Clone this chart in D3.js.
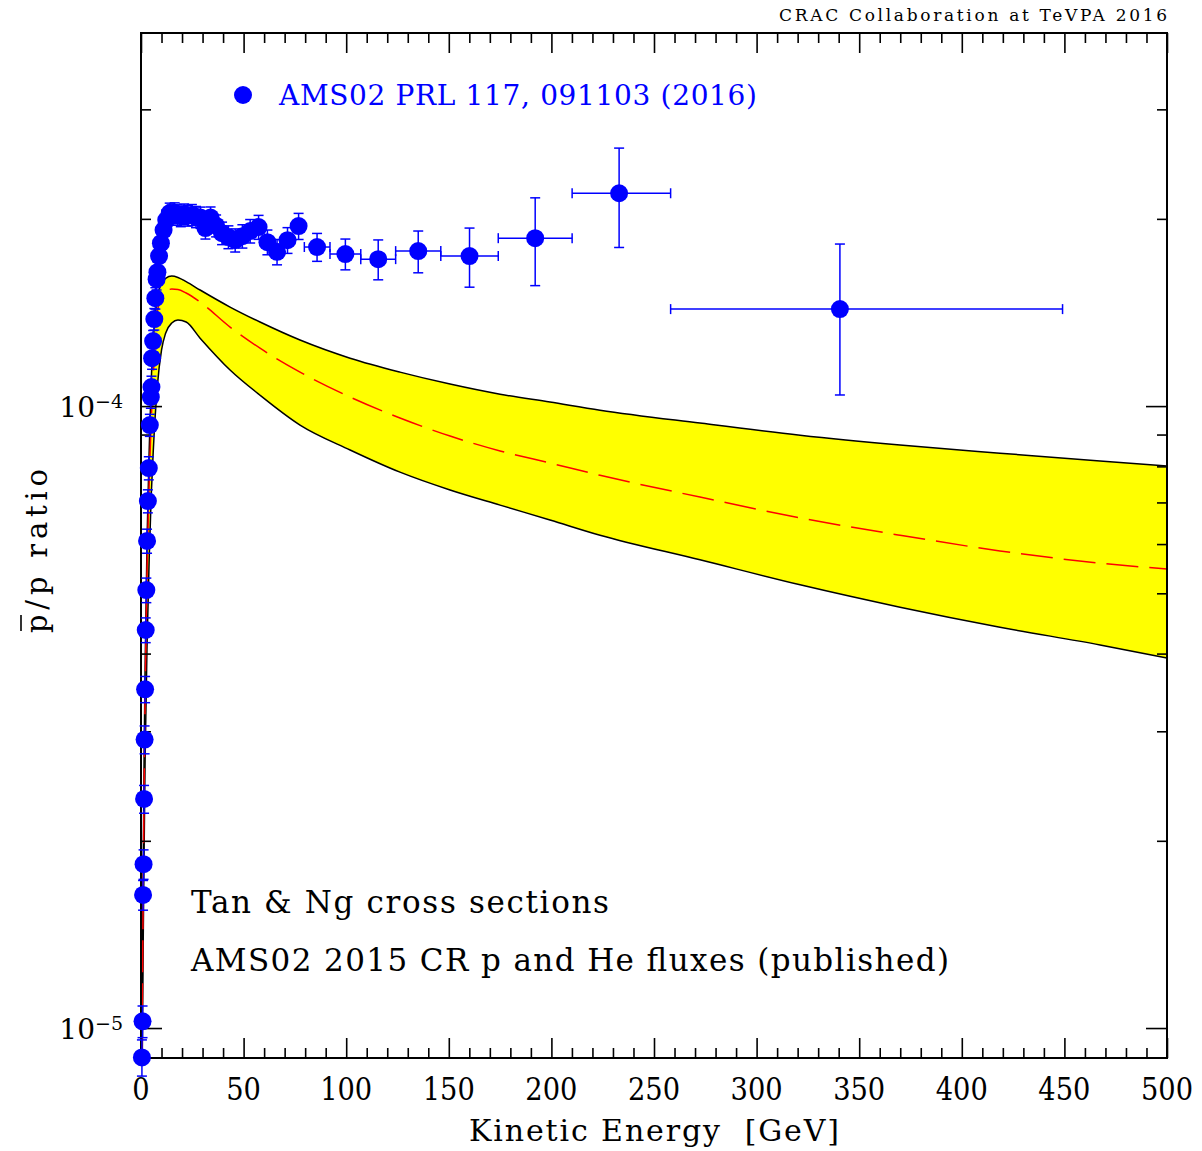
<!DOCTYPE html>
<html><head><meta charset="utf-8">
<script src="https://cdn.jsdelivr.net/npm/d3@7"></script>
<style>
html,body{margin:0;padding:0;background:#fff;}
svg{display:block;}
text{font-family:"DejaVu Serif","Liberation Serif",serif;}
</style></head><body>
<svg id="chart" width="1202" height="1151"></svg>
<script>
// ---------- DATA (ratio values in units of 1e-4) ----------
const UNIT = 1e-4;
const dataKE   = [0.45,0.75,1.0,1.25,1.5,1.75,2.0,2.3,2.6,2.95,3.35,3.8,4.3,4.8,5.1,5.4,5.9,6.5,7.0,7.6,8.0,8.8,9.7,11.0,12.3,14.0,15.0,16.4,17.8,19.4,21.0,22.8,24.8,26.8,29.0,31.4,33.9,36.6,39.5,42.6,45.9,49.4,53.2,57.3,61.6,66.3,71.4,76.8,85.8,99.6,115.6,135.1,160.1,192.1,233.0,340.6];
const dataKELo = [0.3,0.6,0.9,1.1,1.4,1.6,1.9,2.2,2.5,2.8,3.2,3.6,4.1,4.6,4.95,5.25,5.65,6.2,6.8,7.3,7.8,8.4,9.2,10.2,11.6,13.1,14.4,15.7,17.1,18.6,20.2,21.9,23.8,25.8,27.9,30.2,32.6,35.2,38.0,41.0,44.2,47.6,51.3,55.2,59.4,63.9,68.8,74.0,79.6,92.1,107.1,124.1,146.1,174.1,210.1,258.1];
const dataKEHi = [0.6,0.9,1.1,1.4,1.6,1.9,2.2,2.5,2.8,3.2,3.6,4.1,4.6,4.95,5.25,5.65,6.2,6.8,7.3,7.8,8.4,9.2,10.2,11.6,13.1,14.4,15.7,17.1,18.6,20.2,21.9,23.8,25.8,27.9,30.2,32.6,35.2,38.0,41.0,44.2,47.6,51.3,55.2,59.4,63.9,68.8,74.0,79.6,92.1,107.1,124.1,146.1,174.1,210.1,258.1,449.1];
const dataRatio = [0.0897,0.1025,0.1637,0.1834,0.2335,0.291,0.3505,0.4365,0.506,0.607,
  0.7035,0.795,0.932,1.034,1.073,1.194,1.272,1.380,1.491,1.600,
  1.642,1.743,1.828,1.919,1.991,2.043,
  2.03,2.045,2.03,2.02,2.035,2.025,2.03,2.015,2.01,
  1.933,2.01,1.95,1.897,1.870,1.848,1.876,1.912,1.94,1.835,
  1.770,1.848,1.947,
  1.802,1.756,1.723,1.775,1.743,1.862,2.199,1.432];
const dataErr = [0.006,0.006,0.009,0.010,0.012,0.015,0.017,0.02,0.023,0.027,
  0.03,0.034,0.038,0.042,0.044,0.048,0.051,0.055,0.059,0.063,
  0.065,0.068,0.07,0.073,0.075,0.077,
  0.076,0.077,0.077,0.077,0.078,0.078,0.079,0.079,0.079,
  0.077,0.08,0.079,0.079,0.079,0.079,0.081,0.083,0.086,0.084,
  0.083,0.088,0.094,
  0.093,0.10,0.127,0.137,0.19,0.30,0.40,0.39];

const theoryKE      = [0.3,0.5,1,1.5,2,3,4,5,6,8,10,12,15,18,22,28.8,43.4,58,77.5,101.9,126.2,150.6,175,199.3,223.7,272.4,321.2,369.9,418.6,467.4,500];
const theoryUpper   = [0.07,0.095,0.17,0.27,0.38,0.62,0.85,1.10,1.28,1.50,1.575,1.605,1.618,1.61,1.585,1.537,1.443,1.365,1.277,1.194,1.134,1.085,1.045,1.015,0.985,0.939,0.898,0.866,0.840,0.816,0.801];
const theoryCentral = [0.065,0.088,0.155,0.24,0.34,0.55,0.75,0.95,1.12,1.42,1.50,1.53,1.542,1.54,1.52,1.47,1.34,1.239,1.134,1.034,0.957,0.895,0.847,0.810,0.774,0.714,0.661,0.620,0.585,0.559,0.547];
const theoryLower   = [0.058,0.078,0.13,0.19,0.27,0.42,0.57,0.72,0.85,1.08,1.23,1.31,1.36,1.375,1.365,1.286,1.143,1.041,0.932,0.850,0.783,0.733,0.693,0.656,0.620,0.566,0.516,0.475,0.441,0.413,0.3934];

const xMajorTicks = [0,50,100,150,200,250,300,350,400,450,500];
const xMinorTicks = d3.range(0,501,10).filter(v => v % 50 !== 0);
const yMajorTicks = [1e-5,1e-4];
const yMajorExp   = ["−5","−4"];
const yMinorTicks = [2e-5,3e-5,4e-5,5e-5,6e-5,7e-5,8e-5,9e-5,2e-4,3e-4];

const legendLabel = "AMS02 PRL 117, 091103 (2016)";
const titleText = "CRAC Collaboration at TeVPA 2016";
const note1 = "Tan & Ng cross sections";
const note2 = "AMS02 2015 CR p and He fluxes (published)";
const xTitle = "Kinetic Energy  [GeV]";
const yTitle = "p/p ratio";

// ---------- LAYOUT ----------
const P = {left:141, right:1167, top:33, bottom:1058};
const svg = d3.select('#chart');
const x = d3.scaleLinear().domain([0,500]).range([P.left,P.right]);
const y = d3.scaleLog().domain([8.95e-6,3.98e-4]).range([P.bottom,P.top]);
const BLUE = '#0000ff';

svg.append('defs').append('clipPath').attr('id','plotclip')
  .append('rect').attr('x',P.left).attr('y',P.top).attr('width',P.right-P.left).attr('height',P.bottom-P.top);

// theory band
const th = theoryKE.map((k,i)=>({k, u:theoryUpper[i]*UNIT, c:theoryCentral[i]*UNIT, l:theoryLower[i]*UNIT}));
const gTh = svg.append('g').attr('clip-path','url(#plotclip)');
gTh.append('path').datum(th)
  .attr('d', d3.area().curve(d3.curveMonotoneX).x(d=>x(d.k)).y0(d=>y(d.l)).y1(d=>y(d.u)))
  .attr('fill','#ffff00').attr('stroke','none');
['u','l'].forEach(key=>{
  gTh.append('path').datum(th)
    .attr('d', d3.line().curve(d3.curveMonotoneX).x(d=>x(d.k)).y(d=>y(d[key])))
    .attr('fill','none').attr('stroke','#000').attr('stroke-width',1.5);
});
gTh.append('path').datum(th)
  .attr('d', d3.line().curve(d3.curveMonotoneX).x(d=>x(d.k)).y(d=>y(d.c)))
  .attr('fill','none').attr('stroke','#ff0000').attr('stroke-width',1.5).attr('stroke-dasharray','32,11');

// axes ticks
function tickAxis(gen, transform, values, size){
  svg.append('g').attr('transform',transform)
    .call(gen.tickValues(values).tickSizeInner(-size).tickSizeOuter(0).tickFormat(''))
    .call(g=>g.select('.domain').remove())
    .call(g=>g.selectAll('line').attr('stroke','#000').attr('stroke-width',1.6));
}
tickAxis(d3.axisBottom(x), `translate(0,${P.bottom})`, xMajorTicks, 20);
tickAxis(d3.axisBottom(x), `translate(0,${P.bottom})`, xMinorTicks, 10);
tickAxis(d3.axisTop(x), `translate(0,${P.top})`, xMajorTicks, 20);
tickAxis(d3.axisTop(x), `translate(0,${P.top})`, xMinorTicks, 10);
tickAxis(d3.axisLeft(y), `translate(${P.left},0)`, yMajorTicks, 21);
tickAxis(d3.axisLeft(y), `translate(${P.left},0)`, yMinorTicks, 10);
tickAxis(d3.axisRight(y), `translate(${P.right},0)`, yMajorTicks, 21);
tickAxis(d3.axisRight(y), `translate(${P.right},0)`, yMinorTicks, 10);

// frame
svg.append('rect').attr('x',P.left).attr('y',P.top).attr('width',P.right-P.left).attr('height',P.bottom-P.top)
  .attr('fill','none').attr('stroke','#000').attr('stroke-width',2);

// text helper
function txt(xp, yp, str, o){
  const t = svg.append('text').attr('x',xp).attr('y',yp)
    .attr('font-size',o.size).attr('text-anchor',o.anchor||'start').attr('fill',o.fill||'#000')
    .style('white-space','pre').text(str);
  if (o.len) t.attr('textLength',o.len).attr('lengthAdjust','spacing');
  return t;
}

// x tick labels
xMajorTicks.forEach(v=>{
  svg.append('text').attr('transform',`translate(${x(v)},1100) scale(0.88,1)`)
    .attr('font-size',31).attr('text-anchor','middle').text(String(v));
});
// y tick labels
yMajorTicks.forEach((v,i)=>{
  const t = svg.append('text').attr('x',123).attr('y',y(v)+11).attr('text-anchor','end');
  t.append('tspan').attr('font-size',28).text('10');
  t.append('tspan').attr('font-size',19).attr('dy',-9).text(yMajorExp[i]);
});

// axis titles
txt(654, 1141, xTitle, {size:30, anchor:'middle', len:370});
const gy = svg.append('g').attr('transform','translate(47,551) rotate(-90)');
gy.append('text').attr('font-size',29).attr('text-anchor','middle')
  .attr('textLength',164).attr('lengthAdjust','spacing').style('white-space','pre').text(yTitle);
gy.append('line').attr('x1',-80).attr('x2',-64).attr('y1',-26).attr('y2',-26).attr('stroke','#000').attr('stroke-width',1.6);

// title and notes
txt(1167, 21, titleText, {size:17, anchor:'end', len:388});
txt(191, 913, note1, {size:31, len:418});
txt(191, 971, note2, {size:31, len:758});

// data
const pts = dataKE.map((k,i)=>({k, lo:dataKELo[i], hi:dataKEHi[i], v:dataRatio[i]*UNIT, e:dataErr[i]*UNIT}));
const gD = svg.append('g').attr('stroke',BLUE).attr('stroke-width',1.5);
pts.forEach(d=>{
  const cx = x(d.k), cy = y(d.v), yt = y(d.v+d.e), yb = y(d.v-d.e);
  gD.append('line').attr('x1',cx).attr('x2',cx).attr('y1',yt).attr('y2',yb);
  gD.append('line').attr('x1',cx-5).attr('x2',cx+5).attr('y1',yt).attr('y2',yt);
  gD.append('line').attr('x1',cx-5).attr('x2',cx+5).attr('y1',yb).attr('y2',yb);
  const xl = x(d.lo), xr = x(d.hi);
  if (xr - xl > 14) {
    gD.append('line').attr('x1',xl).attr('x2',xr).attr('y1',cy).attr('y2',cy);
    gD.append('line').attr('x1',xl).attr('x2',xl).attr('y1',cy-5).attr('y2',cy+5);
    gD.append('line').attr('x1',xr).attr('x2',xr).attr('y1',cy-5).attr('y2',cy+5);
  }
});
svg.append('g').selectAll('circle').data(pts).join('circle')
  .attr('cx',d=>x(d.k)).attr('cy',d=>y(d.v)).attr('r',9).attr('fill',BLUE);

// legend
svg.append('circle').attr('cx',243).attr('cy',95).attr('r',9).attr('fill',BLUE);
txt(279, 105, legendLabel, {size:28, fill:BLUE, len:478});
</script>
</body></html>
